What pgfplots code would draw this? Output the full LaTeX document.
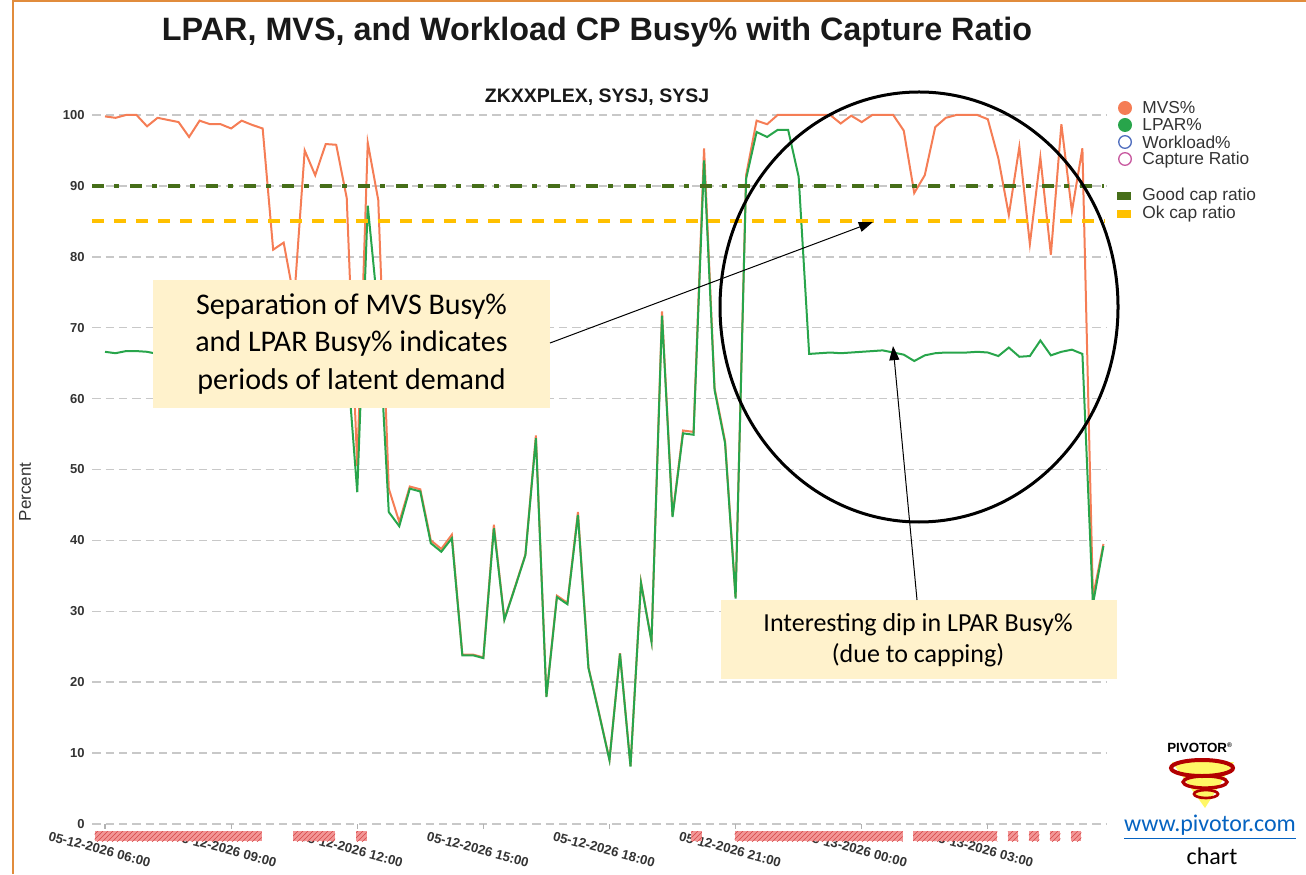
\documentclass[border=0pt]{standalone}
\usepackage{pgfplots}
\pgfplotsset{compat=1.18}
\usepackage{pgfplotstable}
\usepackage{fontspec}
\setmainfont{Liberation Sans}
\newfontfamily\calibri{Carlito}
\usetikzlibrary{patterns,arrows.meta}

\definecolor{mvs}{RGB}{245,125,85}
\definecolor{lpar}{RGB}{40,165,75}
\definecolor{good}{RGB}{70,110,25}
\definecolor{okc}{RGB}{255,192,0}
\definecolor{gridc}{RGB}{200,200,200}
\definecolor{boxc}{RGB}{255,242,204}
\definecolor{barf}{RGB}{242,150,150}
\definecolor{barl}{RGB}{215,70,70}
\definecolor{txt}{RGB}{51,51,51}
\definecolor{wl}{RGB}{80,110,190}
\definecolor{cr}{RGB}{200,90,160}
\definecolor{linkc}{RGB}{5,99,193}
\definecolor{framec}{RGB}{225,140,60}

\pgfplotstableread{
i mvs lpar
0 99.8 66.6
1 99.6 66.4
2 100 66.7
3 100 66.7
4 98.4 66.6
5 99.6 66.3
6 99.3 66.5
7 99.0 66.5
8 96.9 66.4
9 99.2 66.5
10 98.7 66.6
11 98.7 66.5
12 98.1 66.4
13 99.2 66.6
14 98.6 66.5
15 98.1 66.5
16 81.0 66.3
17 82.0 66.4
18 74.0 66.0
19 95.0 66.5
20 91.5 66.4
21 95.9 66.6
22 95.8 66.5
23 88.3 66.2
24 50.5 46.8
25 96.1 87.2
26 88.0 72.0
27 47.3 44.0
28 42.6 42.0
29 47.6 47.3
30 47.2 46.9
31 40.0 39.6
32 38.8 38.4
33 40.8 40.3
34 23.9 23.8
35 23.9 23.8
36 23.5 23.4
37 42.2 41.7
38 28.9 28.8
39 33.4 33.3
40 38.0 37.9
41 54.8 54.4
42 18.0 17.9
43 32.2 32.0
44 31.2 31.0
45 44.0 43.6
46 22.1 22.0
47 15.7 15.6
48 9.1 9.0
49 24.1 24.0
50 8.2 8.1
51 34.1 34.0
52 25.8 25.7
53 72.3 71.7
54 43.5 43.3
55 55.5 55.1
56 55.3 54.9
57 95.3 93.6
58 61.5 61.2
59 54.0 53.7
60 32.0 31.8
61 91.5 91.0
62 99.2 97.6
63 98.7 96.9
64 100 97.9
65 100 97.9
66 100 91.3
67 100 66.3
68 100 66.4
69 100 66.5
70 98.8 66.4
71 99.9 66.5
72 99.0 66.6
73 100 66.7
74 100 66.8
75 100 66.5
76 97.8 66.2
77 89.0 65.3
78 91.5 66.1
79 98.3 66.4
80 99.6 66.5
81 100 66.5
82 100 66.5
83 100 66.6
84 99.4 66.5
85 93.9 66.0
86 85.9 67.2
87 95.5 65.9
88 81.8 66.0
89 94.0 68.2
90 80.3 66.1
91 98.7 66.6
92 86.4 66.9
93 95.3 66.3
94 32.0 31.0
95 39.5 39.2
}\cpdata

\begin{document}
\begin{tikzpicture}
\useasboundingbox (0,0) rectangle (783.6pt,524.4pt);
\begin{axis}[
  at={(55.44pt,30pt)}, anchor=south west,
  scale only axis, width=608.5pt, height=425.4pt,
  xmin=-1.2, xmax=95.3, ymin=0, ymax=100,
  clip=false,
  axis line style={draw=none},
  tick pos=left,
  tick align=outside,
  major tick length=3pt,
  ytick={0,10,...,100},
  ytick style={draw=none},
  xtick={0,12,...,84},
  xtick style={draw=gray!60, line width=0.7pt},
  xticklabels={05-12-2026 06:00,05-12-2026 09:00,05-12-2026 12:00,05-12-2026 15:00,05-12-2026 18:00,05-12-2026 21:00,05-13-2026 00:00,05-13-2026 03:00},
  xticklabel style={rotate=-15, anchor=center, yshift=-12.6pt, font=\bfseries\fontsize{7.9}{9}\selectfont, text=txt},
  yticklabel style={font=\bfseries\fontsize{7.8}{9}\selectfont, text=txt, inner sep=1.5pt},
  /pgf/number format/assume math mode=true,
  ymajorgrids,
  major grid style={gridc, line width=0.9pt, dash pattern=on 5pt off 3pt},
]
% capping bars
\addplot[draw=none, fill=barf, postaction={pattern=north east lines, pattern color=barl}] coordinates {(-1,-1) (14.9,-1) (14.9,-2.4) (-1,-2.4)} --cycle;
\addplot[draw=none, fill=barf, postaction={pattern=north east lines, pattern color=barl}] coordinates {(17.9,-1) (21.9,-1) (21.9,-2.4) (17.9,-2.4)} --cycle;
\addplot[draw=none, fill=barf, postaction={pattern=north east lines, pattern color=barl}] coordinates {(23.9,-1) (24.9,-1) (24.9,-2.4) (23.9,-2.4)} --cycle;
\addplot[draw=none, fill=barf, postaction={pattern=north east lines, pattern color=barl}] coordinates {(55.8,-1) (56.8,-1) (56.8,-2.4) (55.8,-2.4)} --cycle;
\addplot[draw=none, fill=barf, postaction={pattern=north east lines, pattern color=barl}] coordinates {(59.9,-1) (75.9,-1) (75.9,-2.4) (59.9,-2.4)} --cycle;
\addplot[draw=none, fill=barf, postaction={pattern=north east lines, pattern color=barl}] coordinates {(76.9,-1) (84.9,-1) (84.9,-2.4) (76.9,-2.4)} --cycle;
\addplot[draw=none, fill=barf, postaction={pattern=north east lines, pattern color=barl}] coordinates {(85.9,-1) (86.9,-1) (86.9,-2.4) (85.9,-2.4)} --cycle;
\addplot[draw=none, fill=barf, postaction={pattern=north east lines, pattern color=barl}] coordinates {(87.9,-1) (88.9,-1) (88.9,-2.4) (87.9,-2.4)} --cycle;
\addplot[draw=none, fill=barf, postaction={pattern=north east lines, pattern color=barl}] coordinates {(89.9,-1) (90.9,-1) (90.9,-2.4) (89.9,-2.4)} --cycle;
\addplot[draw=none, fill=barf, postaction={pattern=north east lines, pattern color=barl}] coordinates {(91.9,-1) (92.9,-1) (92.9,-2.4) (91.9,-2.4)} --cycle;
% series
\addplot[mvs, line width=1.2pt, no marks] table[x=i, y=mvs] {\cpdata};
\addplot[lpar, line width=1.2pt, no marks] table[x=i, y=lpar] {\cpdata};
% capture ratio guides
\addplot[good, line width=2pt, dash pattern=on 7.2pt off 6pt on 3pt off 6.6pt, no marks] coordinates {(-1.2,90) (95.1,90)};
\addplot[okc, line width=2.4pt, dash pattern=on 7.2pt off 6pt, no marks] coordinates {(-1.2,85) (95.1,85)};
\end{axis}

\begin{scope}[shift={(0pt,524.4pt)}, x=0.6pt, y=-0.6pt]
% frame
\draw[framec, line width=1pt] (13,874) -- (13,1) -- (1306,1);
% titles
\node[font=\bfseries\fontsize{19.4}{22}\selectfont, text=black!90] at (597,32) {LPAR, MVS, and Workload CP Busy\% with Capture Ratio};
\node[font=\bfseries\fontsize{11.7}{14}\selectfont, text=black!90] at (597,97) {ZKXXPLEX, SYSJ, SYSJ};
\node[rotate=90, font=\fontsize{10.2}{12}\selectfont, text=txt] at (25,492) {Percent};
% legend
\fill[mvs] (1125,108) circle (7);
\fill[lpar] (1125,125) circle (7);
\draw[wl, line width=0.8pt] (1125,142) circle (6.3);
\draw[cr, line width=0.8pt] (1125,159) circle (6.3);
\fill[good] (1117,192) rectangle (1131,200);
\fill[okc] (1117,210) rectangle (1131,218);
\begin{scope}[every node/.style={anchor=west, font=\fontsize{10.4}{12}\selectfont, text=txt, inner sep=0pt}]
\node at (1142,108) {MVS\%};
\node at (1142,125) {LPAR\%};
\node at (1142,142) {Workload\%};
\node at (1142,160) {Capture Ratio};
\node at (1142,196) {Good cap ratio};
\node at (1142,214) {Ok cap ratio};
\end{scope}
% annotation boxes
\fill[boxc] (153,280) rectangle (550,408);
\node[align=center, font=\calibri\fontsize{18}{22.5}\selectfont] at (351.5,344) {Separation of MVS Busy\%\\and LPAR Busy\% indicates\\periods of latent demand};
\fill[boxc] (721,600) rectangle (1117,679);
\node[align=center, font=\calibri\fontsize{15.6}{18.6}\selectfont] at (918,640) {Interesting dip in LPAR Busy\%\\(due to capping)};
% arrows
\draw[line width=0.6pt, -{Triangle[length=8.5pt,width=6pt]}] (550,343) -- (873,222);
\draw[line width=0.6pt, -{Triangle[length=8.5pt,width=6pt]}] (917,600) -- (893,346);
% ellipse
\draw[line width=1.8pt] (919,307) ellipse [x radius=199, y radius=215];
% logo
\fill[yellow!60!white] (1172,762) -- (1234,762) -- (1205,808) -- cycle;
\draw[red!70!black, line width=2.4pt] (1202,768) ellipse [x radius=31, y radius=8];
\draw[red!70!black, line width=2pt] (1205,782) ellipse [x radius=22, y radius=6];
\draw[red!70!black, line width=1.6pt] (1206,794) ellipse [x radius=12, y radius=4];
\node[font=\bfseries\fontsize{8}{9}\selectfont] at (1200,748) {PIVOTOR\textsuperscript{\fontsize{4}{4}\selectfont\textregistered}};
\node[font=\calibri\fontsize{14.4}{16}\selectfont, text=linkc] at (1210,827) {\underline{www.pivotor.com}};
\node[font=\calibri\fontsize{14.4}{16}\selectfont] at (1212,856) {chart};
\end{scope}
\end{tikzpicture}
\end{document}
